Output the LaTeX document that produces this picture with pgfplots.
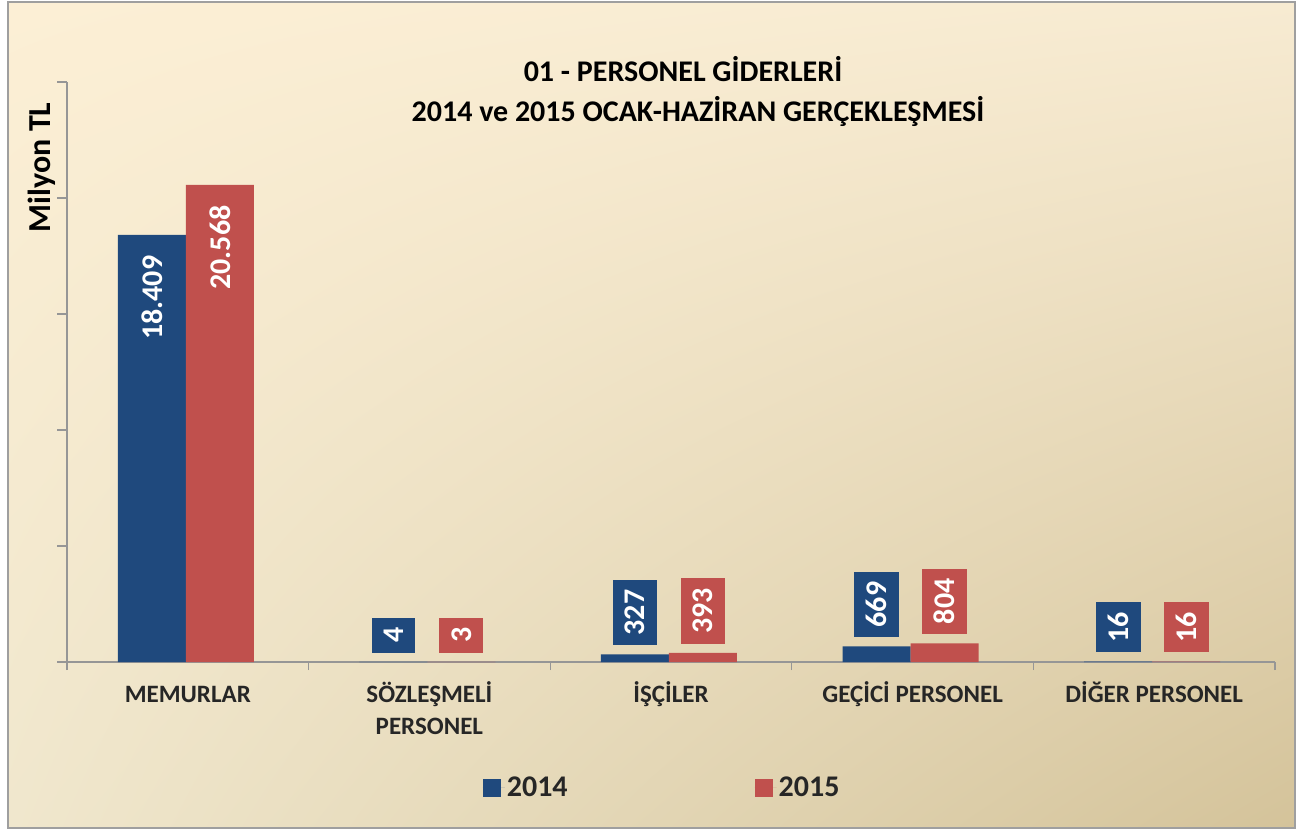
\documentclass[border=0pt]{standalone}
\usepackage{pgfplots}
\pgfplotsset{compat=1.18}
\usepackage{pgfplotstable}
\usetikzlibrary{shadings}
\usepackage{fontspec}
\setmainfont{Carlito}
\definecolor{b14}{RGB}{31,73,125}
\definecolor{r15}{RGB}{192,80,77}
\definecolor{axgray}{RGB}{150,150,150}
\definecolor{bgul}{RGB}{252,239,213}
\definecolor{bgur}{RGB}{247,235,210}
\definecolor{bgll}{RGB}{240,231,205}
\definecolor{bglr}{RGB}{212,195,154}

\pgfplotstableread{
x y lab sh
0 18409 18.409 -115
1 4 4 9
2 327 327 9
3 669 669 9
4 16 16 9
}\dataA
\pgfplotstableread{
x y lab sh
0 20568 20.568 -115
1 3 3 9
2 393 393 9
3 804 804 9
4 16 16 9
}\dataB

\begin{document}
\begin{tikzpicture}
\path[use as bounding box] (0pt,0pt) rectangle (1311pt,830pt);
\shade[upper left=bgul, upper right=bgur, lower left=bgll, lower right=bglr] (8pt,2pt) rectangle (1295pt,828pt);
\draw[gray!75, line width=2.5pt] (8pt,2pt) rectangle (1295pt,828pt);

\node[anchor=base, font=\bfseries\fontsize{30}{36}\selectfont] at (683pt,748pt) {01 - PERSONEL GİDERLERİ};
\node[anchor=base, font=\bfseries\fontsize{30}{36}\selectfont] at (698pt,708pt) {2014 ve 2015 OCAK-HAZİRAN GERÇEKLEŞMESİ};

\begin{axis}[
  at={(67pt,168pt)}, anchor=south west,
  scale only axis, width=1208pt, height=580pt,
  ymin=0, ymax=25000, xmin=-0.5, xmax=4.5,
  ybar=0pt, bar width=68pt,
  axis x line*=bottom, axis y line*=left,
  axis line style={axgray, line width=1.5pt},
  tick style={axgray, line width=1.3pt},
  tick align=outside,
  major tick length=10pt, minor tick length=8pt,
  scaled y ticks=false,
  ytick={0,5000,...,25000}, yticklabels={},
  xtick={0,1,2,3,4},
  xticklabels={\vphantom{İ}MEMURLAR,{SÖZLEŞMELİ\\PERSONEL},İŞÇİLER,GEÇİCİ PERSONEL,DİĞER PERSONEL},
  major x tick style={draw=none},
  minor xtick={-0.5,0.5,1.5,2.5,3.5,4.5},
  xticklabel style={align=center, text=black!85, font=\bfseries\fontsize{25}{32}\selectfont, yshift=-6pt},
  ylabel={Milyon TL},
  ylabel style={at={(axis description cs:-0.0207,0.853)}, anchor=center, font=\bfseries\fontsize{32}{38}\selectfont},
  legend columns=2,
  legend style={at={(axis description cs:0.4927,-0.217)}, anchor=center, draw=none, fill=none,
    font=\bfseries\fontsize{30}{36}\selectfont, text=black!85,
    /tikz/every even column/.append style={column sep=185pt}},
  point meta=explicit symbolic,
  nodes near coords,
  visualization depends on={\thisrow{sh} \as \sh},
  every node near coord/.append style={font=\bfseries\fontsize{30}{34}\selectfont, text=white,
    inner xsep=10pt, inner ysep=12pt, yshift=\sh, rotate=90, anchor=west},
]
\addplot[fill=b14, draw=none, bar shift=-36pt,
  every node near coord/.append style={fill=b14},
  legend image code/.code={\fill[b14] (0pt,-9pt) rectangle (18pt,9pt); \path (0pt,0pt) -- (22pt,0pt);}]
  table[x=x, y=y, meta=lab] {\dataA};
\addplot[fill=r15, draw=none, bar shift=32pt,
  every node near coord/.append style={fill=r15},
  legend image code/.code={\fill[r15] (0pt,-9pt) rectangle (18pt,9pt); \path (0pt,0pt) -- (22pt,0pt);}]
  table[x=x, y=y, meta=lab] {\dataB};
\legend{2014,2015}
\end{axis}
\end{tikzpicture}
\end{document}
